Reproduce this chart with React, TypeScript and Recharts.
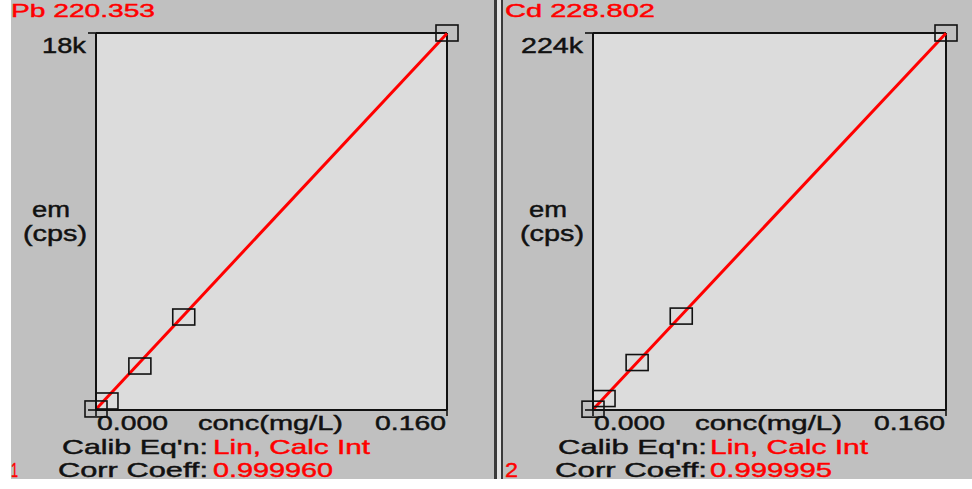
import React from 'react';
import { ComposedChart, XAxis, YAxis, Line, Scatter, CartesianGrid, ReferenceLine } from 'recharts';

// ---- data ----
const stdConcs = [0, 0.005, 0.02, 0.04, 0.16];
const pbCps = [50, 430, 2100, 4440, 18000];
const cdCps = [500, 6800, 28200, 55800, 224000];
const fitConcs = [0, 0.16];
const pbFitCps = [40, 17980];
const cdFitCps = [350, 223900];
const xTicks = [0, 0.16];
const xTickLabels = ['0.000', '0.160'];
const pbYTicks = [0, 18000];
const cdYTicks = [0, 224000];
const pbYTickLabels = ['', '18k'];
const cdYTickLabels = ['', '224k'];

const FONT = '"Liberation Sans", Arial, sans-serif';
const BLACK = '#111111';
const RED = '#ff0000';
const SW = 0.45;

const toPoints = (xs: number[], ys: number[]) => xs.map((x, i) => ({ x, y: ys[i] }));

const Square = (props: any) => {
  const { cx, cy } = props;
  if (cx == null || cy == null) return <g />;
  return <rect x={cx - 11} y={cy - 8} width={22} height={16} fill="none" stroke={BLACK} strokeWidth={1.6} />;
};

type PanelProps = {
  left: number;
  std: { x: number; y: number }[];
  fit: { x: number; y: number }[];
  yMax: number;
  yTicks: number[];
  yTickLabels: string[];
  yTickLen: number;
  chartWidth: number;
  marginRight: number;
  convLen: number;
};

const Panel = (p: PanelProps) => {
  const XTick = (props: any) => {
    const { x, y, payload } = props;
    const idx = xTicks.indexOf(payload.value);
    const first = idx === 0;
    return (
      <text x={first ? x + 1 : x - 1} y={y} dy={12} textAnchor={first ? 'start' : 'end'}
        fontFamily={FONT} fontSize={21} fill={BLACK} stroke={BLACK} strokeWidth={SW}
        textLength={71} lengthAdjust="spacingAndGlyphs">
        {xTickLabels[idx]}
      </text>
    );
  };
  const YTick = (props: any) => {
    const { x, y, payload } = props;
    const idx = p.yTicks.indexOf(payload.value);
    const label = p.yTickLabels[idx];
    if (!label) return <g />;
    return (
      <text x={x} y={y} dy={20} textAnchor="end" fontFamily={FONT} fontSize={22} fill={BLACK}
        stroke={BLACK} strokeWidth={SW} textLength={p.yTickLen} lengthAdjust="spacingAndGlyphs">
        {label}
      </text>
    );
  };
  const YLabel = (props: any) => {
    const vb = props.viewBox || { x: 36, y: 33 };
    return (
      <g>
        <text x={vb.x - 4} y={vb.y + 184} fontFamily={FONT} fontSize={22} fill={BLACK} stroke={BLACK}
          strokeWidth={SW} textLength={38} lengthAdjust="spacingAndGlyphs">em</text>
        <text x={vb.x - 13} y={vb.y + 208} fontFamily={FONT} fontSize={22} fill={BLACK} stroke={BLACK}
          strokeWidth={SW} textLength={64} lengthAdjust="spacingAndGlyphs">(cps)</text>
      </g>
    );
  };
  const XLabel = (props: any) => {
    const vb = props.viewBox || { x: 96, y: 410, width: 351 };
    return (
      <text x={vb.x + vb.width / 2 - 1} y={vb.y + 20} textAnchor="middle" fontFamily={FONT} fontSize={21}
        fill={BLACK} stroke={BLACK} strokeWidth={SW} textLength={p.convLen} lengthAdjust="spacingAndGlyphs">conc(mg/L)</text>
    );
  };
  return (
    <div style={{ position: 'absolute', left: p.left, top: 0 }}>
      <ComposedChart width={p.chartWidth} height={479} margin={{ top: 33, right: p.marginRight, bottom: 39, left: 36 }}>
        <CartesianGrid horizontal={false} vertical={false} fill="#dcdcdc" stroke="none" />
        <XAxis type="number" dataKey="x" domain={[0, 0.16]} ticks={xTicks} height={30}
          axisLine={{ stroke: BLACK, strokeWidth: 2 }} tickLine={{ stroke: BLACK, strokeWidth: 1.6 }}
          tickSize={6} tick={<XTick />} interval={0} label={<XLabel />} />
        <YAxis type="number" domain={[0, p.yMax]} ticks={p.yTicks} width={60}
          axisLine={{ stroke: BLACK, strokeWidth: 2 }} tickLine={{ stroke: BLACK, strokeWidth: 1.6 }}
          tickSize={8} tick={<YTick />} interval={0} label={<YLabel />} />
        <ReferenceLine y={p.yMax} stroke={BLACK} strokeWidth={2} />
        <ReferenceLine x={0.16} stroke={BLACK} strokeWidth={2} />
        <Line data={p.fit} dataKey="y" type="linear" stroke={RED} strokeWidth={3} dot={false}
          activeDot={false} isAnimationActive={false} />
        <Scatter data={p.std} dataKey="y" shape={<Square />} isAnimationActive={false} />
      </ComposedChart>
    </div>
  );
};

const T = (props: { x: number; y: number; len: number; size?: number; color?: string; children: string }) => (
  <text x={props.x} y={props.y} fontFamily={FONT} fontSize={props.size || 21} fill={props.color || BLACK}
    stroke={props.color || BLACK} strokeWidth={SW}
    textLength={props.len} lengthAdjust="spacingAndGlyphs">{props.children}</text>
);

export default function App() {
  return (
    <div style={{ position: 'absolute', left: 0, top: 0, width: 972, height: 489, background: '#ffffff', overflow: 'hidden' }}>
      <div style={{ position: 'absolute', left: 11, top: 0, width: 961, height: 479, background: '#c0c0c0' }} />
      <div style={{ position: 'absolute', left: 494, top: 0, width: 3, height: 479, background: '#3a3a3a' }} />
      <div style={{ position: 'absolute', left: 497, top: 0, width: 4, height: 479, background: '#e4e4e4' }} />
      <div style={{ position: 'absolute', left: 501, top: 0, width: 2, height: 479, background: '#3a3a3a' }} />
      <Panel left={0} std={toPoints(stdConcs, pbCps)} fit={toPoints(fitConcs, pbFitCps)} yMax={18000}
        yTicks={pbYTicks} yTickLabels={pbYTickLabels} yTickLen={44} chartWidth={494} marginRight={47} convLen={145} />
      <Panel left={497} std={toPoints(stdConcs, cdCps)} fit={toPoints(fitConcs, cdFitCps)} yMax={224000}
        yTicks={cdYTicks} yTickLabels={cdYTickLabels} yTickLen={62} chartWidth={475} marginRight={26} convLen={147} />
      <svg width={972} height={489} style={{ position: 'absolute', left: 0, top: 0, pointerEvents: 'none' }}>
        <T x={11} y={17} len={144} size={19} color={RED}>Pb 220.353</T>
        <T x={62} y={454} len={146}>Calib Eq'n:</T>
        <T x={213} y={454} len={157} color={RED}>Lin, Calc Int</T>
        <T x={11} y={477} len={7} color={RED}>1</T>
        <T x={58} y={477} len={150}>Corr Coeff:</T>
        <T x={213} y={477} len={120} color={RED}>0.999960</T>

        <T x={505} y={17} len={150} size={19} color={RED}>Cd 228.802</T>
        <T x={558} y={454} len={149}>Calib Eq'n:</T>
        <T x={710} y={454} len={158} color={RED}>Lin, Calc Int</T>
        <T x={505} y={477} len={13} color={RED}>2</T>
        <T x={555} y={477} len={152}>Corr Coeff:</T>
        <T x={710} y={477} len={122} color={RED}>0.999995</T>
      </svg>
    </div>
  );
}
